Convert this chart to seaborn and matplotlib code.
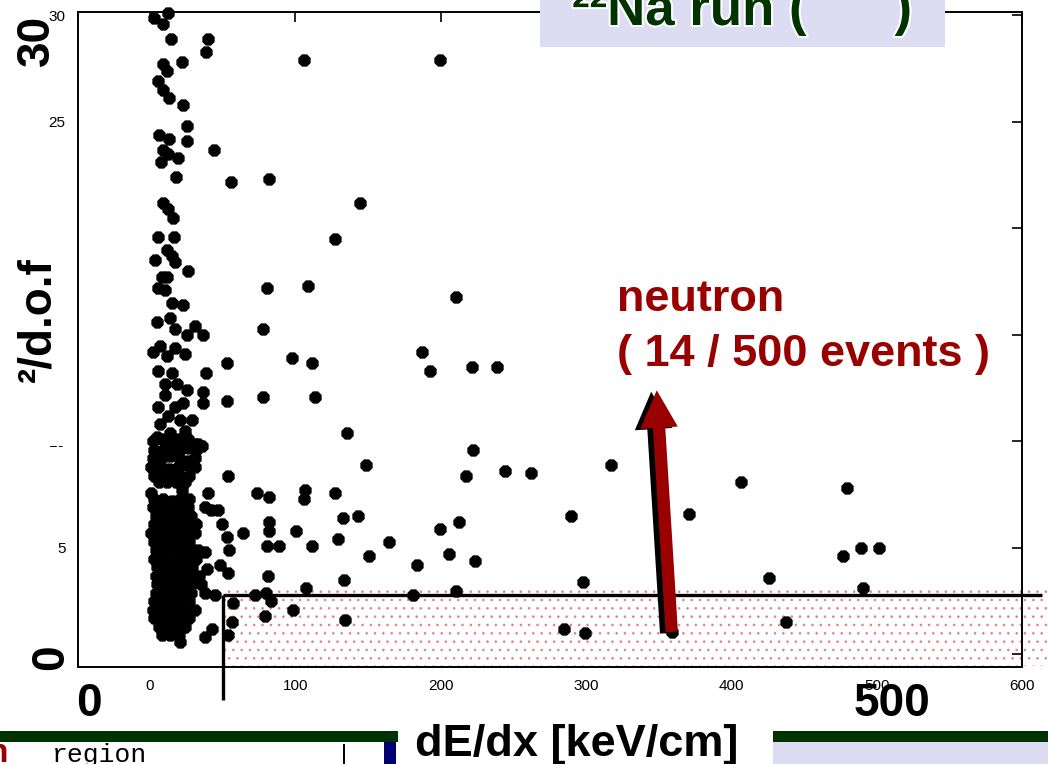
import matplotlib
matplotlib.use("Agg")
import matplotlib.pyplot as plt
import matplotlib.patheffects as pe
from matplotlib.patches import Rectangle, FancyArrowPatch, ArrowStyle
import pandas as pd
import seaborn as sns

# ---------------- data ----------------
sparse_dedx = [
    12.4, 2.8, 8.9, 14.4, 39.9, 38.5, 22.0, 8.9, 11.7, 5.5, 8.9, 13.1, 22.7, 25.4,
    6.2, 13.1, 25.4, 44.0, 8.9, 12.4, 7.6, 19.3, 17.9, 55.7, 81.8, 8.9, 12.4, 15.8,
    105.9, 199.4, 144.4, 127.2,
    5.5, 16.5, 11.7, 15.1, 3.4, 17.2, 26.1, 8.3, 11.7, 5.5, 10.3, 15.1, 22.7, 4.8,
    13.8, 17.2, 30.9, 25.4, 36.5, 17.2, 2.1, 6.9, 11.7, 24.1, 53.0, 5.5, 15.1, 38.5,
    18.6, 10.3, 25.4, 10.3, 36.5, 36.5, 53.0, 5.5, 17.2, 22.7, 12.4, 28.9, 20.6, 6.9,
    24.1, 4.8, 13.8, 19.3, 30.9,
    80.5, 108.7, 210.5, 77.7, 187.1, 192.6, 221.5, 238.7, 97.7, 111.4, 77.7, 113.5,
    135.5, 35.8, 222.1, 53.6, 148.6, 244.2, 262.0, 217.3, 317.1, 39.9, 73.6, 81.8,
    106.6, 105.9, 127.2, 37.8, 46.8, 42.0, 49.5, 64.0, 81.8, 81.8, 100.4, 132.7,
    143.1, 289.5, 53.0, 54.3, 80.5, 88.7, 111.4, 129.3, 164.4, 199.4, 212.5, 37.8,
    150.6, 183.6, 205.6, 223.5, 48.1, 39.2, 53.6, 81.2, 133.4, 297.8, 107.3, 37.8,
    44.7, 72.2, 79.8, 83.2, 180.9, 210.5, 57.1, 98.3, 79.1, 56.4, 134.1, 42.6, 37.8,
    53.6, 284.7, 299.2,
    406.5, 370.7, 479.4, 476.6, 489.0, 501.4, 425.7, 490.4, 437.4, 359.0,
]
sparse_chi2 = [
    30.1, 29.9, 29.6, 28.9, 28.9, 28.3, 27.8, 27.7, 27.4, 26.9, 26.5, 26.1, 25.8, 24.8,
    24.4, 24.2, 24.1, 23.7, 23.7, 23.5, 23.1, 23.3, 22.4, 22.2, 22.3, 21.2, 20.9, 20.5,
    27.9, 27.9, 21.2, 19.5,
    19.6, 19.6, 19.0, 18.7, 18.5, 18.4, 18.0, 17.7, 17.7, 17.2, 17.1, 16.5, 16.4, 15.6,
    15.8, 15.3, 15.4, 15.0, 15.0, 14.4, 14.2, 14.5, 14.0, 14.1, 13.7, 13.3, 13.2, 13.2,
    12.7, 12.7, 12.4, 12.2, 12.3, 11.8, 11.9, 11.6, 11.6, 11.8, 11.2, 11.0, 11.0, 10.8,
    10.5, 10.2, 10.4, 10.1, 9.9,
    17.2, 17.3, 16.8, 15.3, 14.2, 13.3, 13.5, 13.5, 13.9, 13.7, 12.1, 12.1,
    10.4, 9.8, 9.6, 8.4, 8.9, 8.6, 8.5, 8.4, 8.9, 7.6, 7.6, 7.4,
    7.7, 7.3, 7.6, 6.9, 6.8, 6.8, 6.1, 5.7, 6.2, 5.8, 5.8, 6.4,
    6.5, 6.5, 5.5, 4.9, 5.1, 5.1, 5.1, 5.4, 5.3, 5.9, 6.2, 4.8,
    4.6, 4.2, 4.7, 4.4, 4.2, 4.0, 3.8, 3.7, 3.5, 3.4, 3.1, 2.9,
    2.8, 2.8, 2.9, 2.5, 2.8, 3.0, 2.4, 2.1, 1.8, 1.5, 1.6, 1.2, 0.8,
    0.9, 1.2, 1.0,
    8.1, 6.6, 7.8, 4.6, 5.0, 5.0, 3.6, 3.1, 1.5, 1.06,
]

# dense band of gamma events at small dE/dx
cluster_dedx = [
    2, 8, 14, 20, 26, 33,
    3, 9, 15, 21, 27, 32,
    2, 8, 14, 20, 26, 31,
    1, 7, 13, 19, 25, 31,
    3, 9, 15, 21, 27,
    6, 12, 18, 24,
    1, 22,
    3, 9, 15, 21, 27,
    2, 8, 14, 20, 26,
    4, 10, 16, 22, 28,
    3, 9, 15, 21, 27, 32,
    1, 7, 13, 19, 25, 31,
    3, 9, 15, 21, 27,
    4, 10, 16, 22, 28, 33,
    3, 9, 15, 21, 27, 32,
    5, 11, 17, 23, 29,
    4, 10, 16, 22, 28, 34,
    5, 11, 17, 23, 29, 35,
    4, 10, 16, 22, 28,
    3, 9, 15, 21, 27,
    2, 8, 14, 20, 26, 31,
    3, 9, 15, 21, 27,
    6, 12, 18, 24,
    8, 14, 20,
    21,
]
cluster_chi2 = [
    10.0, 10.1, 9.9, 10.0, 10.1, 9.9,
    9.6, 9.6, 9.5, 9.6, 9.7, 9.6,
    9.2, 9.2, 9.3, 9.2, 9.1, 9.2,
    8.8, 8.8, 8.7, 8.8, 8.9, 8.8,
    8.4, 8.4, 8.5, 8.4, 8.4,
    8.1, 8.1, 8.1, 8.1,
    7.6, 7.7,
    7.3, 7.3, 7.2, 7.3, 7.3,
    6.9, 6.9, 6.9, 6.9, 6.9,
    6.5, 6.5, 6.5, 6.5, 6.5,
    6.1, 6.1, 6.1, 6.1, 6.1, 6.1,
    5.7, 5.7, 5.7, 5.7, 5.7, 5.7,
    5.3, 5.3, 5.3, 5.3, 5.3,
    4.9, 4.9, 4.9, 4.9, 4.9, 4.9,
    4.5, 4.5, 4.5, 4.5, 4.5, 4.5,
    4.1, 4.1, 4.1, 4.1, 4.1,
    3.7, 3.7, 3.7, 3.7, 3.7, 3.7,
    3.3, 3.3, 3.3, 3.3, 3.3, 3.3,
    2.9, 2.9, 2.9, 2.9, 2.9,
    2.5, 2.5, 2.5, 2.5, 2.5,
    2.1, 2.1, 2.1, 2.1, 2.1, 2.1,
    1.7, 1.7, 1.7, 1.7, 1.7,
    1.3, 1.3, 1.3, 1.3,
    0.9, 0.9, 0.9,
    0.6,
]

x_ticks = [0, 100, 200, 300, 400, 500, 600]
y_ticks = [0, 5, 10, 15, 20, 25, 30]
cut_dedx = 50       # dE/dx cut [keV/cm]
cut_chi2 = 2.8      # chi2/d.o.f cut

title_text = "²²Na run (      )"
ylabel_text = "²/d.o.f"
xlabel_text = "dE/dx [keV/cm]"
note_lines = ["neutron", "( 14 / 500 events )"]
arrow_tail = (359.0, 1.06)
arrow_head = (348.7, 12.4)

# ---------------- figure ----------------
sns.set_theme(style="white")
plt.rcParams["font.family"] = ["Liberation Sans", "DejaVu Sans"]
plt.rcParams["hatch.linewidth"] = 0.6

W, H = 1048, 764
fig = plt.figure(figsize=(W / 100, H / 100), dpi=100)
fig.patch.set_facecolor("white")


def fx(px):
    return px / W


def fy(py):
    return 1 - py / H


ax = fig.add_axes([fx(78), fy(667), (1022 - 78) / W, (667 - 12) / H])
ax.set_facecolor("white")

df = pd.DataFrame({
    "dEdx": sparse_dedx + cluster_dedx,
    "chi2": sparse_chi2 + cluster_chi2,
})
sns.scatterplot(data=df, x="dEdx", y="chi2", ax=ax, color="black",
                marker="8", s=92, linewidth=0, zorder=3, legend=False)
ax.collections[-1].set_clip_on(False)

ax.set_xlim(-49.5, 600)
ax.set_ylim(-0.59, 30.16)
ax.set_xticks(x_ticks)
ax.set_yticks(y_ticks)
ax.set_xticklabels([str(v) for v in x_ticks])
ax.set_yticklabels([str(v) for v in y_ticks])
ax.set_xlabel("")
ax.set_ylabel("")
ax.tick_params(direction="in", length=7, width=1.2, top=True, right=True,
               labelsize=11, colors="black", pad=9)
for s in ax.spines.values():
    s.set_visible(True)
    s.set_linewidth(1.4)
    s.set_color("black")

# dotted accepted-neutron region
reg = Rectangle((cut_dedx, -0.55), 617.5 - cut_dedx, 3.17 + 0.55,
                facecolor="none", edgecolor="#e08080", hatch="..",
                linewidth=0, zorder=1, clip_on=False)
ax.add_patch(reg)
# cut lines
ax.plot([cut_dedx, 614], [cut_chi2, cut_chi2], color="black", lw=2.4,
        zorder=4, clip_on=False, solid_capstyle="butt")
ax.plot([cut_dedx, cut_dedx], [cut_chi2, -2.15], color="black", lw=2.4,
        zorder=4, clip_on=False, solid_capstyle="butt")

# arrow with black shadow
arr = FancyArrowPatch(arrow_tail, arrow_head,
                      arrowstyle=ArrowStyle.Simple(head_length=1.0, head_width=1.0,
                                                   tail_width=0.33),
                      mutation_scale=27, color="#990000", lw=0,
                      shrinkA=0, shrinkB=0, zorder=6, clip_on=False,
                      path_effects=[pe.SimplePatchShadow(offset=(-4, -1),
                                                         shadow_rgbFace="black",
                                                         alpha=1.0),
                                    pe.Normal()])
ax.add_patch(arr)

# annotation text
fig.text(fx(617), fy(311), note_lines[0], color="#990000", fontsize=32.5,
         fontweight="bold", ha="left", va="baseline", zorder=7)
fig.text(fx(617), fy(366), note_lines[1], color="#990000", fontsize=32.5,
         fontweight="bold", ha="left", va="baseline", zorder=7)

# title box
fig.add_artist(Rectangle((fx(540), fy(47)), (945 - 540) / W, 47 / H,
                         transform=fig.transFigure, facecolor="#dcdcf2",
                         edgecolor="none", zorder=5))
fig.text(fx(572), fy(25), title_text, color="#003300", fontsize=38,
         fontweight="bold", ha="left", va="baseline", zorder=6,
         path_effects=[pe.withStroke(linewidth=3, foreground="white")])

# y label region (white box hiding tick labels)
fig.add_artist(Rectangle((fx(0), fy(446)), fx(70), (446 - 145) / H,
                         transform=fig.transFigure, facecolor="white",
                         edgecolor="none", zorder=5))
fig.text(fx(50), fy(320), ylabel_text, rotation=90, rotation_mode="anchor",
         ha="center", va="baseline", fontsize=33, fontweight="bold",
         color="black", zorder=6)

# large overlay numbers
fig.text(fx(49), fy(40), "30", rotation=90, rotation_mode="anchor",
         ha="center", va="baseline", fontsize=33, fontweight="bold",
         color="black", zorder=6)
fig.text(fx(63), fy(657), "0", rotation=90, rotation_mode="anchor",
         ha="center", va="baseline", fontsize=33, fontweight="bold",
         color="black", zorder=6,
         bbox=dict(facecolor="white", edgecolor="none", pad=1))
fig.text(fx(89), fy(716), "0", ha="center", va="baseline", fontsize=33,
         fontweight="bold", color="black", zorder=6)
fig.text(fx(892), fy(716), "500", ha="center", va="baseline", fontsize=33,
         fontweight="bold", color="black", zorder=6)

# bottom slide strip
fig.add_artist(Rectangle((0, fy(742)), fx(398), 11 / H, transform=fig.transFigure,
                         facecolor="#003300", edgecolor="none", zorder=5))
fig.add_artist(Rectangle((fx(773), fy(742)), (W - 773) / W, 11 / H,
                         transform=fig.transFigure, facecolor="#003300",
                         edgecolor="none", zorder=5))
fig.add_artist(Rectangle((fx(773), 0), (W - 773) / W, (764 - 742) / H,
                         transform=fig.transFigure, facecolor="#dcdcf2",
                         edgecolor="none", zorder=5))
fig.add_artist(Rectangle((fx(384), 0), 12 / W, (764 - 742) / H,
                         transform=fig.transFigure, facecolor="#000070",
                         edgecolor="none", zorder=5))
fig.add_artist(Rectangle((fx(343), 0), 2 / W, (764 - 744) / H,
                         transform=fig.transFigure, facecolor="black",
                         edgecolor="none", zorder=5))
fig.text(fx(52), fy(762), "region", family=["Liberation Mono", "DejaVu Sans Mono"],
         fontsize=19, color="black", ha="left", va="baseline", zorder=6)
fig.text(fx(-12), fy(762), "n", fontsize=24, fontweight="bold", color="#990000",
         ha="left", va="baseline", zorder=6)
fig.text(fx(415), fy(756), xlabel_text, fontsize=32.5, fontweight="bold",
         color="black", ha="left", va="baseline", zorder=6)

fig.savefig("out.png", dpi=100, facecolor="white")
